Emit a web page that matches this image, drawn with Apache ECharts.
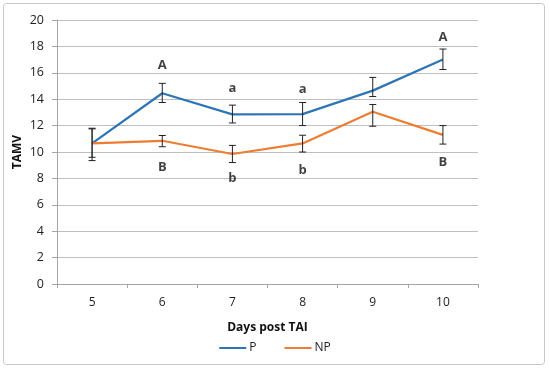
<!DOCTYPE html>
<html><head><meta charset="utf-8">
<script src="https://cdn.jsdelivr.net/npm/echarts@6/dist/echarts.min.js"></script>
<style>html,body{margin:0;padding:0;background:#fff}#c{width:550px;height:368px}</style>
</head><body><div id="c"></div>
<script>
const categories = ['5','6','7','8','9','10'];
const pValues = [10.65, 14.45, 12.85, 12.87, 14.65, 17.0];
const pUpper  = [11.8, 15.2, 13.55, 13.75, 15.65, 17.8];
const pLower  = [9.6, 13.75, 12.2, 12.0, 14.2, 16.25];
const npValues = [10.65, 10.85, 9.85, 10.65, 13.05, 11.3];
const npUpper  = [11.75, 11.25, 10.5, 11.27, 13.6, 12.0];
const npLower  = [9.35, 10.4, 9.2, 10.0, 11.95, 10.6];
const letterCats = ['6','7','8','10','6','7','8','10'];
const letterText = ['A','a','a','A','B','b','b','B'];
const letterPos  = [16.6, 14.85, 14.75, 18.7, 8.85, 8.0, 8.6, 9.2];

const chart = echarts.init(document.getElementById('c'));
function errSeries(up, lo){
  return {
    type:'custom', silent:true, z:5,
    data: categories.map((c,i)=>[i, lo[i], up[i]]),
    renderItem: function(params, api){
      const x = api.value(0);
      const top = api.coord([x, api.value(2)]);
      const bot = api.coord([x, api.value(1)]);
      const w = 3.5;
      const st = {stroke:'#222', lineWidth:1};
      return {type:'group', children:[
        {type:'line', shape:{x1:top[0],y1:top[1],x2:bot[0],y2:bot[1]}, style:st},
        {type:'line', shape:{x1:top[0]-w,y1:top[1],x2:top[0]+w,y2:top[1]}, style:st},
        {type:'line', shape:{x1:bot[0]-w,y1:bot[1],x2:bot[0]+w,y2:bot[1]}, style:st}
      ]};
    }
  };
}
chart.setOption({
  animation:false,
  textStyle:{fontFamily:'Open Sans, Liberation Sans, sans-serif'},
  graphic:[{type:'rect', shape:{x:3.5,y:3.5,width:541,height:361,r:3}, style:{fill:'none', stroke:'#c8c8c8', lineWidth:1}, z:-1}],
  grid:{left:57, right:72, top:20, bottom:84},
  legend:{
    data:['P','NP'], bottom:9, left:'center', itemWidth:27, itemHeight:2, itemGap:28,
    icon:'rect',
    textStyle:{fontSize:12, color:'#222', padding:[0,0,0,-2]}
  },
  xAxis:{
    type:'category', data:categories, boundaryGap:true,
    name:'Days post TAI', nameLocation:'middle', nameGap:38,
    nameTextStyle:{fontWeight:'bold', fontSize:12, color:'#111'},
    axisLine:{lineStyle:{color:'#a6a6a6'}},
    axisTick:{show:true, length:4, lineStyle:{color:'#a6a6a6'}},
    axisLabel:{color:'#222', fontSize:12, margin:13}
  },
  yAxis:{
    type:'value', min:0, max:20, interval:2,
    name:'TAMV', nameLocation:'middle', nameGap:33, nameRotate:90, nameMoveOverlap:false,
    nameTextStyle:{fontWeight:'bold', fontSize:12, color:'#111'},
    axisLine:{show:true, lineStyle:{color:'#a6a6a6'}},
    axisTick:{show:true, length:5, lineStyle:{color:'#a6a6a6'}},
    axisLabel:{color:'#222', fontSize:12.5, margin:13},
    splitLine:{lineStyle:{color:'#bfbfbf'}}
  },
  series:[
    {name:'P', type:'line', data:pValues, symbol:'none', lineStyle:{width:2.2, color:'#2E75B6'}, itemStyle:{color:'#2E75B6'}, z:3},
    {name:'NP', type:'line', data:npValues, symbol:'none', lineStyle:{width:2.2, color:'#ED7D31'}, itemStyle:{color:'#ED7D31'}, z:3},
    errSeries(pUpper, pLower),
    errSeries(npUpper, npLower),
    {type:'scatter', symbolSize:0, silent:true, z:6,
     data: letterCats.map((c,i)=>({value:[c, letterPos[i]], label:{formatter:letterText[i]}})),
     label:{show:true, position:'inside', fontWeight:'bold', fontSize:13, color:'#111'}}
  ]
});
</script></body></html>
